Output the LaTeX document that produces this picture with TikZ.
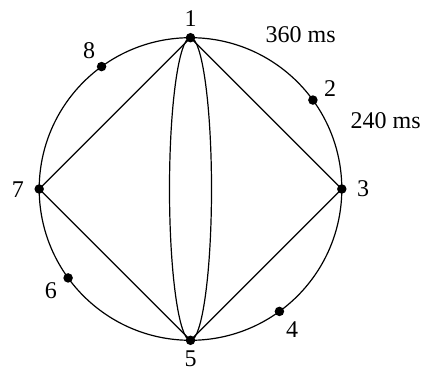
\documentclass[tikz,border=0pt]{standalone}
\usepackage{fontspec}
\setmainfont{Liberation Serif}
\begin{document}
\begin{tikzpicture}[x=1pt,y=1pt,line width=1.2pt,
  dot/.style={circle,fill=black,inner sep=0pt,minimum size=9.5pt},
  lbl/.style={font=\fontsize{24}{28}\selectfont,inner sep=0pt}]
\useasboundingbox (0,0) rectangle (424,372);
\coordinate (c) at (190.5,183);
\draw (c) circle[radius=151.3];
\draw (c) ellipse[x radius=21, y radius=151.3];
\begin{scope}[shift={(c)}]
\node[dot] (n1) at (90:151.3) {};
\node[dot] (n2) at (36:151.3) {};
\node[dot] (n3) at (0:151.3) {};
\node[dot] (n4) at (-54:151.3) {};
\node[dot] (n5) at (-90:151.3) {};
\node[dot] (n6) at (216:151.3) {};
\node[dot] (n7) at (180:151.3) {};
\node[dot] (n8) at (126:151.3) {};
\end{scope}
\draw (n1.center) -- (n7.center) -- (n5.center) -- (n3.center) -- (n1.center);
\node[lbl] (l1) at (190.7,353.7) {1};
\node[lbl] (l2) at (330,283) {2};
\node[lbl] (l3) at (363,183) {3};
\node[lbl] (l4) at (292,42) {4};
\node[lbl] (l5) at (190.7,13) {5};
\node[lbl] (l6) at (51,81.5) {6};
\node[lbl] (l7) at (18,182.5) {7};
\node[lbl] (l8) at (89,321.3) {8};
\node[lbl] (t360) at (300.7,337.3) {360 ms};
\node[lbl] (t240) at (385.7,251.7) {240 ms};
\end{tikzpicture}
\end{document}
